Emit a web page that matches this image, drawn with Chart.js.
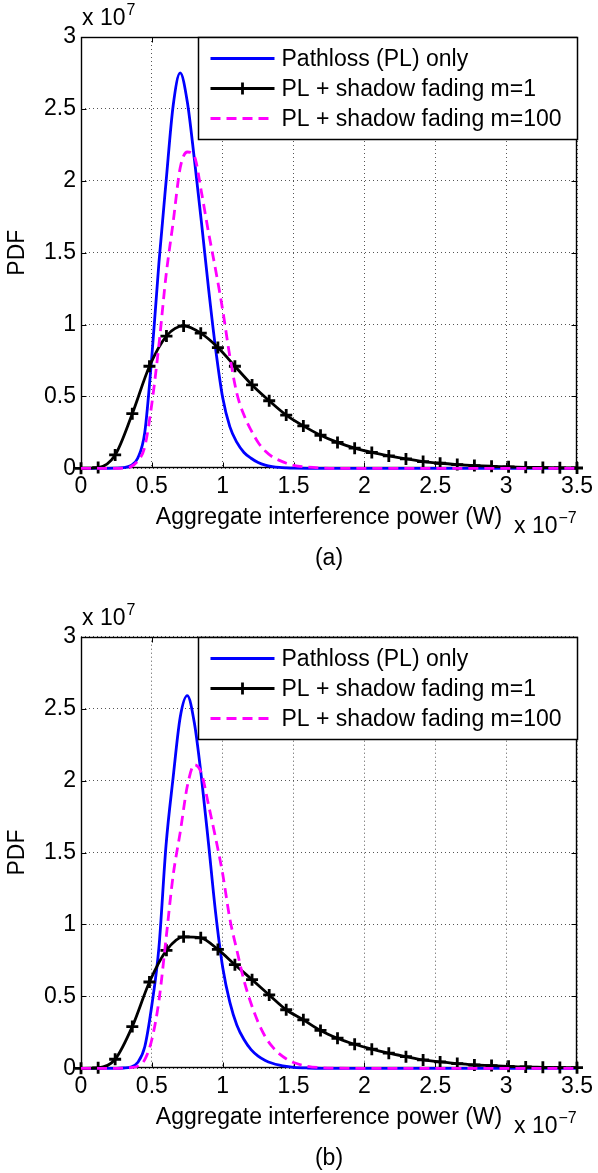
<!DOCTYPE html>
<html>
<head>
<meta charset="utf-8">
<script src="https://cdn.jsdelivr.net/npm/chart.js@4.4.1/dist/chart.umd.min.js"></script>
<style>
  html, body { margin: 0; padding: 0; background: #fff; }
  .panel { position: absolute; left: 0; width: 598px; }
  #panelA { top: 0; height: 580px; }
  #panelB { top: 580px; height: 593px; }
</style>
</head>
<body>
<div class="panel" id="panelA"><canvas id="chartA"></canvas></div>
<div class="panel" id="panelB"><canvas id="chartB"></canvas></div>
<script>
// x axis in units of 1e-7 W, y axis in units of 1e7
const xTicks = [0, 0.5, 1, 1.5, 2, 2.5, 3, 3.5];
const yTicks = [0, 0.5, 1, 1.5, 2, 2.5, 3];
const seriesNames = ['Pathloss (PL) only', 'PL + shadow fading m=1', 'PL + shadow fading m=100'];

// sample points of the smooth curves (PL only, m=100)
const xFine = [0, 0.1, 0.2, 0.25, 0.30, 0.35, 0.40, 0.45, 0.50, 0.55, 0.60, 0.65, 0.70, 0.75,
  0.80, 0.85, 0.90, 0.95, 1.00, 1.05, 1.10, 1.15, 1.20, 1.25, 1.30, 1.35, 1.40, 1.45, 1.50,
  1.60, 1.70, 1.80, 2.0, 2.5, 3.0, 3.5];
// marker points of the m=1 curve
const xMarks = [0, 0.121, 0.241, 0.362, 0.483, 0.603, 0.724, 0.845, 0.966, 1.086, 1.207, 1.328,
  1.448, 1.569, 1.690, 1.810, 1.931, 2.052, 2.172, 2.293, 2.414, 2.534, 2.655, 2.776, 2.897,
  3.017, 3.138, 3.259, 3.379, 3.5];

// panel (a)
const plA = [0, 0, 0, 0.001, 0.005, 0.018, 0.07, 0.25, 0.78, 1.43, 1.99, 2.52, 2.75, 2.55,
  2.15, 1.71, 1.25, 0.83, 0.49, 0.29, 0.18, 0.11, 0.07, 0.04, 0.022, 0.012, 0.006, 0.003, 0.001,
  0, 0, 0, 0, 0, 0, 0];
const m1A = [0, 0.005, 0.093, 0.38, 0.71, 0.92, 0.99, 0.94, 0.84, 0.71, 0.58, 0.47, 0.37, 0.295,
  0.23, 0.18, 0.14, 0.11, 0.086, 0.065, 0.047, 0.035, 0.026, 0.019, 0.014, 0.010, 0.007, 0.005,
  0.003, 0.002];
const m100A = [0, 0, 0, 0, 0.002, 0.01, 0.05, 0.15, 0.45, 0.86, 1.34, 1.71, 2.09, 2.20, 2.17,
  1.92, 1.64, 1.38, 1.10, 0.78, 0.52, 0.37, 0.265, 0.18, 0.12, 0.08, 0.055, 0.035, 0.02, 0.008,
  0.002, 0, 0, 0, 0, 0];

// panel (b)
const plB = [0, 0, 0, 0, 0.002, 0.008, 0.04, 0.15, 0.44, 0.84, 1.55, 2.02, 2.44, 2.59, 2.40,
  2.02, 1.56, 1.08, 0.70, 0.46, 0.30, 0.20, 0.13, 0.085, 0.055, 0.035, 0.022, 0.013, 0.007,
  0.002, 0, 0, 0, 0, 0, 0];
const m1B = [0, 0.003, 0.063, 0.29, 0.60, 0.82, 0.914, 0.907, 0.826, 0.72, 0.616, 0.51, 0.407,
  0.337, 0.263, 0.209, 0.167, 0.133, 0.105, 0.081, 0.058, 0.044, 0.033, 0.023, 0.019, 0.014,
  0.009, 0.007, 0.005, 0.004];
const m100B = [0, 0, 0, 0, 0.002, 0.005, 0.015, 0.06, 0.20, 0.47, 0.90, 1.34, 1.64, 1.96, 2.11,
  2.05, 1.83, 1.60, 1.35, 1.04, 0.82, 0.61, 0.45, 0.32, 0.22, 0.15, 0.10, 0.065, 0.04, 0.014,
  0.004, 0.001, 0, 0, 0, 0];

const FONT = 'Liberation Sans, Arial, Helvetica, sans-serif';
const FS = 23;

const pts = (xs, ys) => xs.map((x, i) => ({ x: x, y: ys[i] }));

// MATLAB style box and inward ticks (under the curves), legend and labels (on top)
const matlabFrame = {
  id: 'matlabFrame',
  beforeDatasetsDraw(chart) {
    const { ctx, chartArea: a, scales: { x, y } } = chart;
    const L = Math.round(a.left) + 0.5, R = Math.round(a.right) - 0.5;
    const T = Math.round(a.top) + 0.5, B = Math.round(a.bottom) - 0.5;
    ctx.save();
    ctx.strokeStyle = '#000';
    ctx.lineWidth = 1;
    ctx.beginPath();
    x.ticks.forEach(t => {
      const px = Math.round(x.getPixelForValue(t.value)) + 0.5;
      ctx.moveTo(px, B); ctx.lineTo(px, B - 5);
      ctx.moveTo(px, T); ctx.lineTo(px, T + 5);
    });
    y.ticks.forEach(t => {
      const py = Math.round(y.getPixelForValue(t.value)) + 0.5;
      ctx.moveTo(L, py); ctx.lineTo(L + 5, py);
      ctx.moveTo(R, py); ctx.lineTo(R - 5, py);
    });
    ctx.stroke();
    ctx.lineWidth = 1.4;
    ctx.strokeRect(L, T, R - L, B - T);
    ctx.restore();
  },
  afterDatasetsDraw(chart, args, opts) {
    const { ctx, chartArea: a } = chart;
    const R = Math.round(a.right) - 0.5, T = Math.round(a.top) + 0.5;
    ctx.save();

    // legend
    const w = 379, h = 102;
    const lx = R - w + 1, ly = T;
    ctx.fillStyle = '#fff';
    ctx.fillRect(lx, ly, w, h);
    ctx.strokeStyle = '#000';
    ctx.lineWidth = 1.5;
    ctx.strokeRect(lx, ly, w, h);
    chart.data.datasets.forEach((ds, i) => {
      const cy = ly + 21 + 30 * i;
      ctx.save();
      ctx.strokeStyle = ds.borderColor;
      ctx.lineWidth = ds.borderWidth;
      ctx.setLineDash(ds.borderDash || []);
      ctx.beginPath();
      ctx.moveTo(lx + 12, cy); ctx.lineTo(lx + 76, cy);
      ctx.stroke();
      if (ds.pointRadius > 0) {
        ctx.setLineDash([]);
        ctx.lineWidth = ds.pointBorderWidth;
        const r = ds.pointRadius, cx = lx + 44;
        ctx.beginPath();
        ctx.moveTo(cx - r, cy); ctx.lineTo(cx + r, cy);
        ctx.moveTo(cx, cy - r); ctx.lineTo(cx, cy + r);
        ctx.stroke();
      }
      ctx.restore();
      ctx.fillStyle = '#000';
      ctx.font = FS + 'px ' + FONT;
      ctx.textBaseline = 'middle';
      ctx.textAlign = 'left';
      ctx.fillText(ds.label, lx + 83, cy + 1);
    });

    // exponent labels
    ctx.fillStyle = '#000';
    ctx.textBaseline = 'alphabetic';
    ctx.textAlign = 'left';
    ctx.font = FS + 'px ' + FONT;
    const base = 'x 10';
    const bw = ctx.measureText(base).width;
    ctx.fillText(base, a.left + 1, a.top - 12);
    ctx.fillText(base, a.right - 63, a.bottom + 65);
    ctx.font = '16px ' + FONT;
    ctx.fillText('7', a.left + 2 + bw, a.top - 22);
    ctx.fillText('\u22127', a.right - 62 + bw, a.bottom + 55);

    // panel caption
    ctx.font = FS + 'px ' + FONT;
    ctx.textAlign = 'center';
    ctx.textBaseline = 'middle';
    ctx.fillText(opts.caption, (a.left + a.right) / 2, a.bottom + 90);
    ctx.restore();
  }
};

function makeChart(id, pl, m1, m100, caption, padTop, padBottom) {
  const ctx = document.getElementById(id).getContext('2d');
  return new Chart(ctx, {
    type: 'line',
    data: {
      datasets: [
        {
          label: seriesNames[0], data: pts(xFine, pl), borderColor: '#0000ff', borderWidth: 2.8,
          pointRadius: 0, cubicInterpolationMode: 'monotone', order: 2, clip: 8
        },
        {
          label: seriesNames[1], data: pts(xMarks, m1), borderColor: '#000', borderWidth: 2.8,
          pointStyle: 'cross', pointRadius: 6, pointBorderWidth: 2.8, pointBorderColor: '#000',
          pointBackgroundColor: '#000', cubicInterpolationMode: 'monotone', order: 1, clip: 8
        },
        {
          label: seriesNames[2], data: pts(xFine, m100), borderColor: '#ff00ff', borderWidth: 2.8,
          borderDash: [10, 6], pointRadius: 0, cubicInterpolationMode: 'monotone', order: 0, clip: 8
        }
      ]
    },
    options: {
      responsive: true,
      maintainAspectRatio: false,
      animation: false,
      layout: { padding: { left: 0, right: 18, top: padTop, bottom: padBottom } },
      plugins: {
        legend: { display: false },
        tooltip: { enabled: false },
        matlabFrame: { caption: caption }
      },
      scales: {
        x: {
          type: 'linear', min: 0, max: 3.5,
          afterBuildTicks: s => { s.ticks = xTicks.map(v => ({ value: v })); },
          afterFit: s => { s.height = 70; },
          ticks: {
            color: '#000', font: { family: FONT, size: FS }, padding: 5, maxRotation: 0,
            callback: v => String(v)
          },
          grid: { color: '#555', lineWidth: 1, drawTicks: false },
          border: { display: false, dash: [1, 3] },
          title: {
            display: true, text: 'Aggregate interference power (W)', color: '#000',
            font: { family: FONT, size: FS }, padding: { top: 0, bottom: 7 }
          }
        },
        y: {
          min: 0, max: 3,
          afterBuildTicks: s => { s.ticks = yTicks.map(v => ({ value: v })); },
          afterFit: s => { s.width = 81; },
          ticks: {
            color: '#000', font: { family: FONT, size: FS }, padding: 5,
            callback: v => String(v)
          },
          grid: { color: '#555', lineWidth: 1, drawTicks: false },
          border: { display: false, dash: [1, 3] },
          title: {
            display: true, text: 'PDF', color: '#000',
            font: { family: FONT, size: FS }, padding: { top: 4, bottom: 0 }
          }
        }
      }
    },
    plugins: [matlabFrame]
  });
}

makeChart('chartA', plA, m1A, m100A, '(a)', 37, 41.7);
makeChart('chartB', plB, m1B, m100B, '(b)', 56.7, 34.7);
</script>
</body>
</html>
